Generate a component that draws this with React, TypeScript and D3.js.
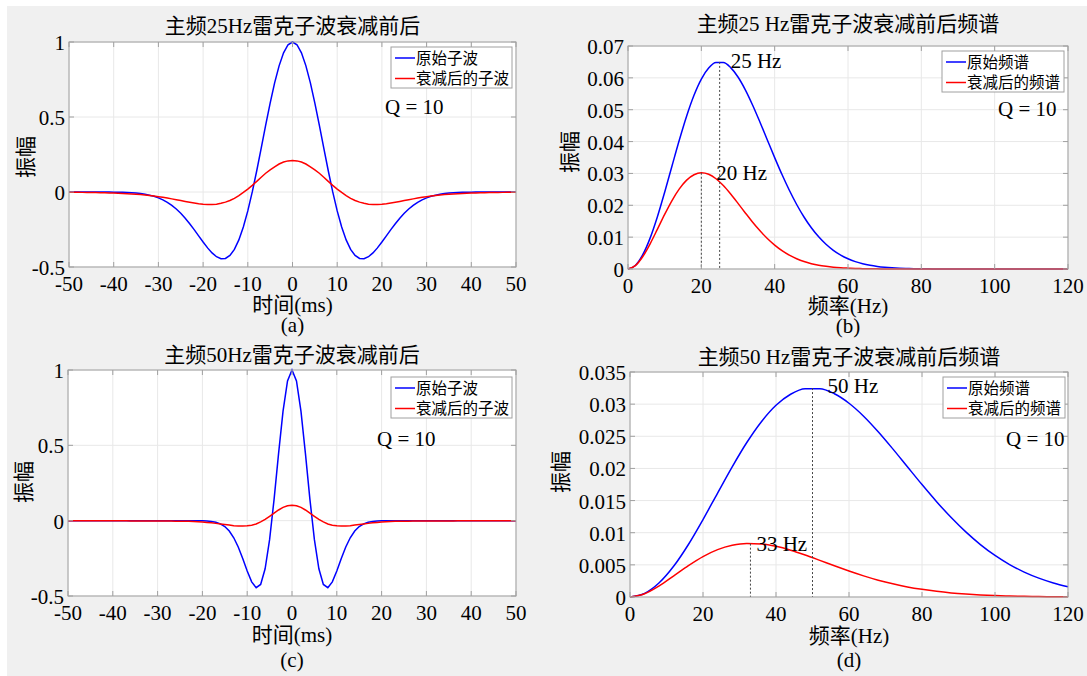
import React from 'react';
import * as d3 from 'd3';

const FONT = '"Liberation Serif", "Times New Roman", "Noto Sans CJK SC", serif';

// ---- Data ----
// Wavelets are symmetric: values for t = 0..50 ms (1 ms step), mirrored for negative t
const waveTimeHalf = d3.range(0, 51);
const wave25Orig = [1, 0.98159, 0.92748, 0.84096, 0.72718, 0.59274, 0.44517, 0.29233, 0.14179, 0.00043,
  -0.12612, -0.23362, -0.31944, -0.38253, -0.42328, -0.44328, -0.44495, -0.43141, -0.4062, -0.37263,
  -0.33369, -0.29237, -0.25103, -0.21147, -0.17492, -0.14209, -0.11341, -0.08903, -0.06879, -0.05235,
  -0.03919, -0.02892, -0.02101, -0.01503, -0.01061, -0.00738, -0.00505, -0.0034, -0.0023, -0.0015,
  -0.001, -0.0006, -0.0004, -0.0002, -0.0001, -0.0001, 0, 0, 0, 0, 0];
const wave25Att = [0.21, 0.2074, 0.1996, 0.1867, 0.1682, 0.1481, 0.125, 0.0987, 0.0707, 0.0445,
  0.0195, -0.0029, -0.0241, -0.042, -0.0567, -0.0676, -0.0755, -0.0809, -0.0831, -0.0828,
  -0.0814, -0.0777, -0.0733, -0.0683, -0.0628, -0.0571, -0.0515, -0.0458, -0.0402, -0.0357,
  -0.0313, -0.0271, -0.0232, -0.0202, -0.0174, -0.0151, -0.013, -0.0113, -0.0099, -0.0086,
  -0.0074, -0.0063, -0.0055, -0.0046, -0.004, -0.0034, -0.0029, -0.0025, -0.0021, -0.0019, -0.0017];
const wave50Orig = [1, 0.92748, 0.72718, 0.44517, 0.14179, -0.12612, -0.31944, -0.42328, -0.44495, -0.4062,
  -0.33369, -0.25103, -0.17492, -0.11341, -0.06879, -0.03919, -0.02101, -0.01061, -0.00505, -0.00228,
  -0.00097, -0.0004, -0.00015, 0, 0, 0, 0, 0, 0, 0, 0, 0, 0, 0, 0, 0, 0, 0, 0, 0, 0, 0, 0, 0, 0, 0, 0, 0, 0, 0, 0];
const wave50Att = [0.103, 0.0991, 0.0879, 0.0709, 0.0504, 0.0291, 0.0086, -0.008, -0.0219, -0.03,
  -0.0339, -0.0356, -0.0359, -0.0335, -0.0295, -0.0256, -0.0217, -0.018, -0.0146, -0.0114,
  -0.0086, -0.0068, -0.0055, -0.0046, -0.004, -0.0035, -0.0031, -0.0028, -0.0025, -0.0023,
  -0.0021, -0.0019, -0.0018, -0.0017, -0.0016, -0.0015, -0.0014, -0.0013, -0.0012, -0.0011,
  -0.0011, -0.001, -0.001, -0.0009, -0.0009, -0.0008, -0.0008, -0.0008, -0.0007, -0.0007, -0.0007];

// Spectra
const freq25 = d3.range(0, 121, 2);
const spec25Orig = [0, 0.00112, 0.00441, 0.00961, 0.01633, 0.02409, 0.03233, 0.04049, 0.04805, 0.05454,
  0.05963, 0.06308, 0.06479, 0.0648, 0.06322, 0.06028, 0.05625, 0.05141, 0.04607, 0.04051,
  0.03497, 0.02965, 0.02471, 0.02025, 0.01632, 0.01294, 0.0101, 0.00776, 0.00587, 0.00437,
  0.00321, 0.00232, 0.00165, 0.00116, 0.0008, 0.00055, 0.00037, 0.00024, 0.00016, 0.0001,
  0.00006, 0.00004, 0.00002, 0.00001, 0, 0, 0, 0, 0, 0, 0, 0, 0, 0, 0, 0, 0, 0, 0, 0, 0];
const spec25Att = [0, 0.00105, 0.00385, 0.00784, 0.01244, 0.01715, 0.0215, 0.02515, 0.02789, 0.02958,
  0.03021, 0.02974, 0.02833, 0.02619, 0.02353, 0.02061, 0.0176, 0.01468, 0.01199, 0.00958,
  0.0075, 0.00576, 0.00434, 0.00322, 0.00234, 0.00168, 0.00118, 0.00083, 0.00056, 0.00038,
  0.00026, 0.00016, 0.0001, 0.00006, 0.00004, 0.00002, 0.00001, 0.00001, 0,
  0, 0, 0, 0, 0, 0, 0, 0, 0, 0, 0, 0, 0, 0, 0, 0, 0, 0, 0, 0, 0, 0];
const freq50 = d3.range(0, 121, 4);
const spec50Orig = [0, 0.00056, 0.00221, 0.00481, 0.00817, 0.01205, 0.01617, 0.02025, 0.02403, 0.02727,
  0.02982, 0.03154, 0.0324, 0.0324, 0.03161, 0.03014, 0.02813, 0.02571, 0.02304, 0.02026,
  0.01749, 0.01483, 0.01236, 0.01013, 0.00816, 0.00647, 0.00505, 0.00388, 0.00294, 0.00219, 0.00161];
const spec50Att = [0, 0.0005, 0.00173, 0.00329, 0.00488, 0.00629, 0.00737, 0.00805, 0.00834, 0.00826,
  0.00788, 0.00728, 0.00653, 0.0057, 0.00485, 0.00404, 0.00329, 0.00262, 0.00205, 0.00157,
  0.00119, 0.00088, 0.00064, 0.00046, 0.00032, 0.00022, 0.00015, 0.0001, 0.00007, 0.00004, 0.00003];

// Peak annotations [freq, amplitude, label]
const peaks25: [number, number, string][] = [[25, 0.065, '25 Hz'], [20, 0.0302, '20 Hz']];
const peaks50: [number, number, string][] = [[50, 0.0325, '50 Hz'], [33, 0.0083, '33 Hz']];

const timeTicks = [-50, -40, -30, -20, -10, 0, 10, 20, 30, 40, 50];
const waveYTicks = [-0.5, 0, 0.5, 1];
const freqTicks = [0, 20, 40, 60, 80, 100, 120];
const spec25YTicks = [0, 0.01, 0.02, 0.03, 0.04, 0.05, 0.06, 0.07];
const spec50YTicks = [0, 0.005, 0.01, 0.015, 0.02, 0.025, 0.03, 0.035];

const waveLegend = ['原始子波', '衰减后的子波'];
const specLegend = ['原始频谱', '衰减后的频谱'];

function mirror(half: number[]) {
  const neg = half.slice(1).reverse().map((v, i) => ({ x: -(waveTimeHalf[50 - i]), y: v }));
  const pos = half.map((v, i) => ({ x: waveTimeHalf[i], y: v }));
  return neg.concat(pos);
}
function zipXY(xs: number[], ys: number[]) {
  return xs.map((x, i) => ({ x, y: ys[i] }));
}

type Pt = { x: number; y: number };
type PanelCfg = {
  x0: number; x1: number; y0: number; y1: number;
  xDom: [number, number]; yDom: [number, number];
  xTicks: number[]; yTicks: number[];
  series: Pt[][]; smooth: boolean;
  title: string; titleY: number;
  xLabel: string; xLabelY: number;
  tag: string; tagY: number;
  yLabelX: number; yLabelY: number;
  legend: string[]; legX: number; legY: number; legW: number;
  qX: number; qY: number;
  peaks?: [number, number, string][]; peakOff?: [number, number][];
};

const COLORS = ['#0000ff', '#ff0000'];

function Panel({ c }: { c: PanelCfg }) {
  const xs = d3.scaleLinear().domain(c.xDom).range([c.x0, c.x1]);
  const ys = d3.scaleLinear().domain(c.yDom).range([c.y1, c.y0]);
  const line = d3.line<Pt>().x(d => xs(d.x)).y(d => ys(d.y));
  if (c.smooth) line.curve(d3.curveMonotoneX);
  const axisCol = '#a0a0a0';
  const gridCol = '#e8e8e8';
  const tickLen = 5;
  return (
    <g>
      <rect x={c.x0} y={c.y0} width={c.x1 - c.x0} height={c.y1 - c.y0} fill="#fff" />
      {c.xTicks.map(t => (
        <line key={'gx' + t} x1={xs(t)} x2={xs(t)} y1={c.y0} y2={c.y1} stroke={gridCol} strokeWidth={1} />
      ))}
      {c.yTicks.map(t => (
        <line key={'gy' + t} x1={c.x0} x2={c.x1} y1={ys(t)} y2={ys(t)} stroke={gridCol} strokeWidth={1} />
      ))}
      {c.series.map((s, i) => (
        <path key={'s' + i} d={line(s) || ''} fill="none" stroke={COLORS[i]} strokeWidth={1.5} />
      ))}
      {c.peaks && c.peaks.map((p, i) => (
        <g key={'pk' + i}>
          <line x1={xs(p[0])} x2={xs(p[0])} y1={ys(p[1])} y2={c.y1} stroke="#444" strokeWidth={1} strokeDasharray="2,2" />
          <text x={xs(p[0]) + c.peakOff![i][0]} y={ys(p[1]) + c.peakOff![i][1]} fontSize={21} fontFamily={FONT} fill="#000">{p[2]}</text>
        </g>
      ))}
      <rect x={c.x0} y={c.y0} width={c.x1 - c.x0} height={c.y1 - c.y0} fill="none" stroke={axisCol} strokeWidth={1} />
      {c.xTicks.map(t => (
        <g key={'tx' + t}>
          <line x1={xs(t)} x2={xs(t)} y1={c.y1} y2={c.y1 - tickLen} stroke={axisCol} />
          <line x1={xs(t)} x2={xs(t)} y1={c.y0} y2={c.y0 + tickLen} stroke={axisCol} />
          <text x={xs(t)} y={c.y1 + 24} textAnchor="middle" fontSize={21} fontFamily={FONT} fill="#000">{String(t)}</text>
        </g>
      ))}
      {c.yTicks.map(t => (
        <g key={'ty' + t}>
          <line x1={c.x0} x2={c.x0 + tickLen} y1={ys(t)} y2={ys(t)} stroke={axisCol} />
          <line x1={c.x1} x2={c.x1 - tickLen} y1={ys(t)} y2={ys(t)} stroke={axisCol} />
          <text x={c.x0 - 4} y={ys(t) + 8} textAnchor="end" fontSize={21} fontFamily={FONT} fill="#000">{String(t)}</text>
        </g>
      ))}
      <text x={(c.x0 + c.x1) / 2} y={c.titleY} textAnchor="middle" fontSize={21} fontFamily={FONT} fill="#000">{c.title}</text>
      <text x={(c.x0 + c.x1) / 2} y={c.xLabelY} textAnchor="middle" fontSize={21} fontFamily={FONT} fill="#000">{c.xLabel}</text>
      <text x={(c.x0 + c.x1) / 2} y={c.tagY} textAnchor="middle" fontSize={21} fontFamily={FONT} fill="#000">{c.tag}</text>
      <text transform={`translate(${c.yLabelX},${c.yLabelY}) rotate(-90)`} textAnchor="middle" dominantBaseline="central" fontSize={21} fontFamily={FONT} fill="#000">振幅</text>
      <rect x={c.legX} y={c.legY} width={c.legW} height={41} fill="#fff" stroke={axisCol} strokeWidth={1} />
      {c.legend.map((l, i) => (
        <g key={'lg' + i}>
          <line x1={c.legX + 4} x2={c.legX + 24} y1={c.legY + 11 + i * 20.5} y2={c.legY + 11 + i * 20.5} stroke={COLORS[i]} strokeWidth={1.5} />
          <text x={c.legX + 25} y={c.legY + 11 + i * 20.5} dominantBaseline="central" fontSize={15.5} fontFamily={FONT} fill="#000">{l}</text>
        </g>
      ))}
      <text x={c.qX} y={c.qY} fontSize={21} fontFamily={FONT} fill="#000">Q = 10</text>
    </g>
  );
}

export default function App() {
  const panels: PanelCfg[] = [
    {
      x0: 69, x1: 516, y0: 42, y1: 267, xDom: [-50, 50], yDom: [-0.5, 1],
      xTicks: timeTicks, yTicks: waveYTicks, series: [mirror(wave25Orig), mirror(wave25Att)], smooth: false,
      title: '主频25Hz雷克子波衰减前后', titleY: 33, xLabel: '时间(ms)', xLabelY: 312, tag: '(a)', tagY: 332,
      yLabelX: 26, yLabelY: 157, legend: waveLegend, legX: 391, legY: 47, legW: 121, qX: 385, qY: 114,
    },
    {
      x0: 628, x1: 1068, y0: 46, y1: 269, xDom: [0, 120], yDom: [0, 0.07],
      xTicks: freqTicks, yTicks: spec25YTicks, series: [zipXY(freq25, spec25Orig), zipXY(freq25, spec25Att)], smooth: true,
      title: '主频25 Hz雷克子波衰减前后频谱', titleY: 31, xLabel: '频率(Hz)', xLabelY: 313, tag: '(b)', tagY: 333,
      yLabelX: 570, yLabelY: 152, legend: specLegend, legX: 942, legY: 51, legW: 122, qX: 998, qY: 116,
      peaks: peaks25, peakOff: [[11, 6], [15, 7]],
    },
    {
      x0: 68, x1: 516, y0: 370, y1: 596, xDom: [-50, 50], yDom: [-0.5, 1],
      xTicks: timeTicks, yTicks: waveYTicks, series: [mirror(wave50Orig), mirror(wave50Att)], smooth: false,
      title: '主频50Hz雷克子波衰减前后', titleY: 362, xLabel: '时间(ms)', xLabelY: 642, tag: '(c)', tagY: 667,
      yLabelX: 24, yLabelY: 482, legend: waveLegend, legX: 391, legY: 377, legW: 121, qX: 377, qY: 446,
    },
    {
      x0: 630, x1: 1068, y0: 372, y1: 597, xDom: [0, 120], yDom: [0, 0.035],
      xTicks: freqTicks, yTicks: spec50YTicks, series: [zipXY(freq50, spec50Orig), zipXY(freq50, spec50Att)], smooth: true,
      title: '主频50 Hz雷克子波衰减前后频谱', titleY: 364, xLabel: '频率(Hz)', xLabelY: 643, tag: '(d)', tagY: 667,
      yLabelX: 561, yLabelY: 472, legend: specLegend, legX: 943, legY: 377, legW: 122, qX: 1006, qY: 446,
      peaks: peaks50, peakOff: [[15, 5], [6, 7]],
    },
  ];
  return (
    <svg width={1087} height={676} style={{ position: 'absolute', left: 0, top: 0, display: 'block' }}>
      <rect x={0} y={0} width={1087} height={676} fill="#fff" />
      <rect x={7} y={6} width={1080} height={670} fill="#f0f0f0" />
      {panels.map((p, i) => <Panel key={i} c={p} />)}
    </svg>
  );
}
